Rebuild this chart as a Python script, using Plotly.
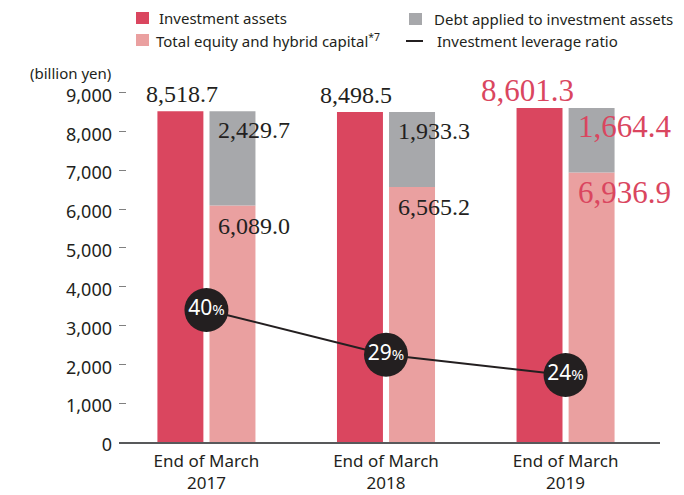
import plotly.graph_objects as go

# data (billion yen / %)
categories = ["End of March<br>2017", "End of March<br>2018", "End of March<br>2019"]
investment_assets = [8518.7, 8498.5, 8601.3]
equity_hybrid = [6089.0, 6565.2, 6936.9]
debt_applied = [2429.7, 1933.3, 1664.4]
leverage_ratio = [40, 29, 24]
y_ticks = [0, 1000, 2000, 3000, 4000, 5000, 6000, 7000, 8000, 9000]

RED = "#da465f"
PINK = "#eaa0a0"
GRAY = "#a7a8ab"
INK = "#231f20"
SANS = "Noto Sans"
SERIF = "Liberation Serif"

# page geometry (px); the html body adds an 8px margin around the figure
PAGE = 8
W, H = 684 - PAGE, 495 - PAGE
L, R, T, B = 111, 24, 64, 53
PW, PH = W - L - R, H - T - B


def px(x):
    # screen x -> paper
    return (x - PAGE - L) / PW


def py(y):
    # screen y -> paper
    return (H - B - (y - PAGE)) / PH


fig = go.Figure()

fig.add_trace(
    go.Bar(
        x=categories,
        y=investment_assets,
        name="Investment assets",
        marker=dict(color=RED, line=dict(width=0)),
        offset=-0.273,
        width=0.256,
    )
)
fig.add_trace(
    go.Bar(
        x=categories,
        y=equity_hybrid,
        name="Total equity and hybrid capital",
        marker=dict(color=PINK, line=dict(width=0)),
        offset=0.017,
        width=0.256,
    )
)
fig.add_trace(
    go.Bar(
        x=categories,
        y=debt_applied,
        base=equity_hybrid,
        name="Debt applied to investment assets",
        marker=dict(color=GRAY, line=dict(width=0)),
        offset=0.017,
        width=0.256,
    )
)

# leverage ratio on a hidden secondary axis
fig.add_trace(
    go.Scatter(
        x=categories,
        y=leverage_ratio,
        yaxis="y2",
        mode="lines+markers+text",
        line=dict(color=INK, width=2),
        marker=dict(size=44, color=INK),
        text=[f"{v}<span style='font-size:15px'>%</span>" for v in leverage_ratio],
        textposition="middle center",
        textfont=dict(family=SANS, size=21, color="white"),
        name="Investment leverage ratio",
        cliponaxis=False,
    )
)

# value labels
annotations = []
red_shift = [-24, -30, -38]
for i, cat in enumerate(categories):
    big = i == len(categories) - 1
    colour = RED if big else INK
    size = 31 if big else 24
    font = dict(family=SERIF, size=size, color=colour)
    annotations.append(
        dict(x=cat, y=investment_assets[i], xref="x", yref="y",
             text=f"{investment_assets[i]:,.1f}", showarrow=False,
             xanchor="center", yanchor="middle",
             xshift=red_shift[i], yshift=17, font=font)
    )
    total = equity_hybrid[i] + debt_applied[i]
    annotations.append(
        dict(x=cat, y=total, xref="x", yref="y",
             text=f"{debt_applied[i]:,.1f}", showarrow=False,
             xanchor="left", yanchor="middle",
             xshift=10, yshift=-19, font=font)
    )
    annotations.append(
        dict(x=cat, y=equity_hybrid[i], xref="x", yref="y",
             text=f"{equity_hybrid[i]:,.1f}", showarrow=False,
             xanchor="left", yanchor="middle",
             xshift=10, yshift=-20, font=font)
    )

annotations.append(
    dict(x=px(113), y=py(73), xref="paper", yref="paper", text="(billion yen)",
         showarrow=False, xanchor="right", yanchor="middle",
         font=dict(family=SANS, size=15, color=INK))
)

# hand-built legend
shapes = []
legend_items = [
    ("rect", RED, (136, 12, 149, 24), "Investment assets", (157, 18)),
    ("rect", GRAY, (409, 13, 422, 25), "Debt applied to investment assets", (432, 19)),
    ("rect", PINK, (136, 34, 149, 46), "Total equity and hybrid capital<sup>*7</sup>", (154, 40)),
    ("line", INK, (406, 41, 423, 41), "Investment leverage ratio", (435, 41)),
]
for kind, colour, (x0, y0, x1, y1), label, (tx, ty) in legend_items:
    if kind == "rect":
        shapes.append(dict(type="rect", xref="paper", yref="paper",
                           x0=px(x0), x1=px(x1), y0=py(y0), y1=py(y1),
                           fillcolor=colour, line=dict(width=0)))
    else:
        shapes.append(dict(type="line", xref="paper", yref="paper",
                           x0=px(x0), x1=px(x1), y0=py(y0), y1=py(y1),
                           line=dict(color=colour, width=2)))
    annotations.append(
        dict(x=px(tx), y=py(ty), xref="paper", yref="paper", text=label,
             showarrow=False, xanchor="left", yanchor="middle",
             font=dict(family=SANS, size=15, color=INK))
    )

fig.update_layout(
    width=W,
    height=H,
    margin=dict(l=L, r=R, t=T, b=B, pad=0),
    barmode="overlay",
    showlegend=False,
    plot_bgcolor="white",
    paper_bgcolor="white",
    font=dict(family=SANS, color=INK),
    annotations=annotations,
    shapes=shapes,
    xaxis=dict(
        range=[-0.487, 2.526],
        automargin=False,
        showline=True,
        linecolor="#58595b",
        linewidth=1.5,
        showgrid=False,
        ticks="",
        ticklabelstandoff=3,
        tickfont=dict(family=SANS, size=17, color=INK),
    ),
    yaxis=dict(
        range=[0, 9528],
        automargin=False,
        tickvals=y_ticks,
        tickformat=",d",
        showline=False,
        showgrid=False,
        zeroline=False,
        ticks="inside",
        ticklen=7,
        tickwidth=1,
        tickcolor="#808080",
        ticklabelstandoff=6,
        ticklabelshift=3,
        tickfont=dict(family=SANS, size=18, color=INK),
    ),
    yaxis2=dict(
        range=[7.5, 98.6],
        overlaying="y",
        visible=False,
    ),
)

fig.write_html("out.html")
